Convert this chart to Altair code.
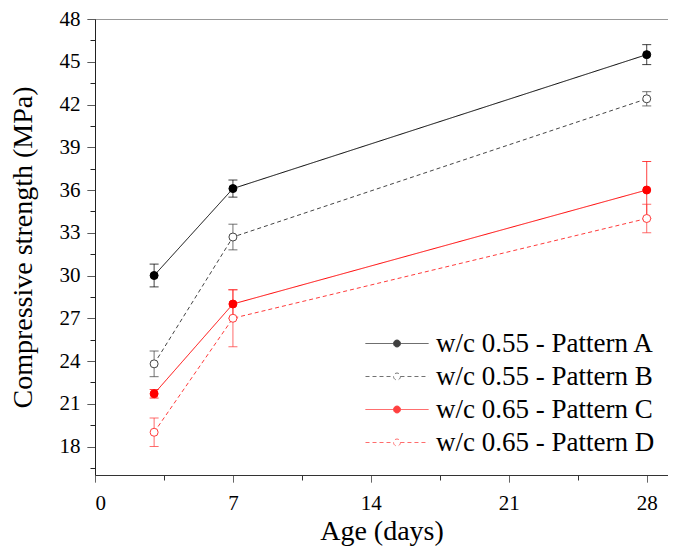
import altair as alt
import pandas as pd

days = [3, 7, 28]
series_names = ["w/c 0.55 - Pattern A", "w/c 0.55 - Pattern B",
                "w/c 0.65 - Pattern C", "w/c 0.65 - Pattern D"]
a_vals = [30.0, 36.1, 45.5]
a_err = [0.8, 0.6, 0.7]
b_vals = [23.8, 32.7, 42.4]
b_err = [0.9, 0.9, 0.5]
c_vals = [21.7, 28.0, 36.0]
c_err = [0.3, 1.0, 2.0]
d_vals = [19.0, 27.0, 34.0]
d_err = [1.0, 2.0, 1.0]

y_ticks = [16.5, 18, 19.5, 21, 22.5, 24, 25.5, 27, 28.5, 30, 31.5, 33, 34.5,
           36, 37.5, 39, 40.5, 42, 43.5, 45, 46.5, 48]
x_ticks = [0, 3.5, 7, 10.5, 14, 17.5, 21, 24.5, 28]

rows = []
for name, vals, errs in zip(series_names, [a_vals, b_vals, c_vals, d_vals],
                            [a_err, b_err, c_err, d_err]):
    for d, v, e in zip(days, vals, errs):
        rows.append({"series": name, "age": d, "strength": v,
                     "lo": v - e, "hi": v + e})
df = pd.DataFrame(rows)

FONT = "Liberation Serif"
stroke_scale = alt.Scale(domain=series_names,
                         range=["#000000", "#444444", "#ff0000", "#ff3b3b"])
fill_scale = alt.Scale(domain=series_names,
                       range=["#000000", "#ffffff", "#ff0000", "#ffffff"])
dash_scale = alt.Scale(domain=series_names,
                       range=[[1, 0], [4, 3], [1, 0], [4, 3]])

sym_path = ("M-1,0L-0.11,0M0.11,0L1,0M-0.11,0A0.11,0.11,0,1,0,0.11,0"
            "A0.11,0.11,0,1,0,-0.11,0Z")


def make_legend():
    return alt.Legend(title=None, orient="none", legendX=270, legendY=309,
                      padding=0, symbolType=sym_path, symbolSize=3969,
                      clipHeight=31, rowPadding=2, labelFont=FONT,
                      labelFontSize=27, labelOffset=7, labelColor="black",
                      symbolStrokeWidth=1, labelLimit=0)


xs = alt.Scale(domain=[0, 29.08], nice=False, zero=False)
ys = alt.Scale(domain=[16, 48], nice=False, zero=False)


def make_x_axis():
    return alt.Axis(values=x_ticks, title="Age (days)", grid=False,
                    labelExpr="datum.value % 7 == 0 ? datum.label : ''",
                    tickSize=7,
                    tickDash={"condition": {"test": "datum.value % 7 == 0", "value": [1, 0]},
                              "value": [5, 3]},
                    labelPadding=10, titleBaseline="alphabetic", titleY=64,
                    domainColor="#333333", tickColor="#333333")


def make_y_axis():
    return alt.Axis(values=y_ticks, title="Compressive strength (MPa)", grid=False,
                    labelExpr="datum.value % 3 == 0 ? datum.label : ''",
                    tickSize=8,
                    tickDash={"condition": {"test": "datum.value % 3 == 0", "value": [1, 0]},
                              "value": [5, 4]},
                    labelPadding=7, titleX=-58, titleY=228, titleBaseline="bottom",
                    domainColor="#222222", tickColor="#222222")


def stroke_enc():
    return alt.Stroke("series:N", scale=stroke_scale, legend=make_legend())


base = alt.Chart(df)

err_v = base.mark_rule(strokeWidth=1, opacity=0.75).encode(
    x=alt.X("age:Q", scale=xs, axis=None),
    y=alt.Y("lo:Q", scale=ys, axis=make_y_axis()),
    y2="hi:Q",
    stroke=stroke_enc(),
)
cap_lo = base.mark_rule(strokeWidth=1, opacity=0.75, xOffset=-4.5, x2Offset=4.5).encode(
    x=alt.X("age:Q", scale=xs, axis=None),
    x2="age:Q",
    y=alt.Y("lo:Q", scale=ys, axis=make_y_axis()),
    stroke=stroke_enc(),
)
cap_hi = base.mark_rule(strokeWidth=1, opacity=0.75, xOffset=-4.5, x2Offset=4.5).encode(
    x=alt.X("age:Q", scale=xs, axis=None),
    x2="age:Q",
    y=alt.Y("hi:Q", scale=ys, axis=make_y_axis()),
    stroke=stroke_enc(),
)
lines = base.mark_line(strokeWidth=1).encode(
    x=alt.X("age:Q", scale=xs, axis=make_x_axis()),
    y=alt.Y("strength:Q", scale=ys, axis=make_y_axis()),
    stroke=stroke_enc(),
    strokeDash=alt.StrokeDash("series:N", scale=dash_scale, legend=make_legend()),
)
points = base.mark_point(size=64, strokeWidth=1, opacity=1, filled=False).encode(
    x=alt.X("age:Q", scale=xs, axis=None),
    y=alt.Y("strength:Q", scale=ys, axis=make_y_axis()),
    stroke=stroke_enc(),
    fill=alt.Fill("series:N", scale=fill_scale, legend=make_legend()),
)
top = base.mark_point(opacity=0).encode(
    x=alt.X("age:Q", scale=xs,
            axis=alt.Axis(orient="top", labels=False, ticks=False, title=None,
                          grid=False, domainColor="#999999")),
    y=alt.Y("strength:Q", scale=ys, axis=make_y_axis()),
)

chart = alt.layer(err_v, cap_lo, cap_hi, lines, points, top).resolve_axis(
    x="independent"
).properties(
    width=573, height=456,
    padding={"left": 87, "top": 11, "right": 0, "bottom": 72},
    autosize=alt.AutoSizeParams(type="none"),
).configure(font=FONT).configure_view(stroke=None).configure_axis(
    labelFont=FONT, titleFont=FONT, labelFontSize=21, titleFontSize=28,
    titleFontWeight="normal", labelColor="black", titleColor="black",
    domainWidth=1, tickWidth=1,
)

chart.save("out.html", embed_options={"renderer": "svg", "actions": False})
